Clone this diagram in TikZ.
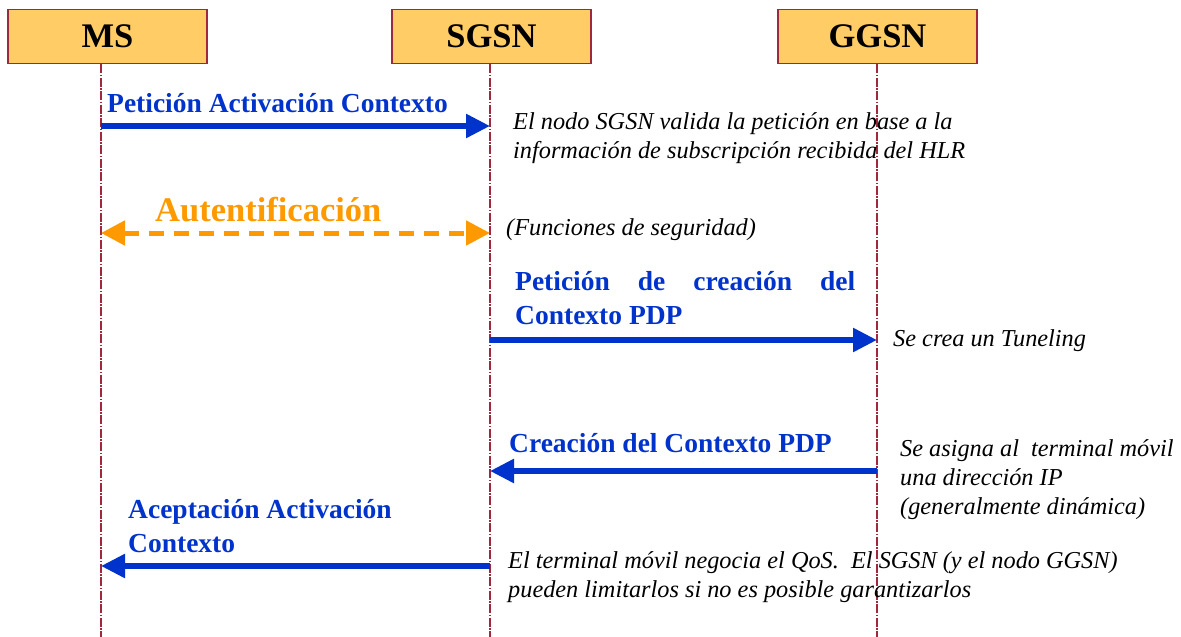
\documentclass[tikz,border=0pt]{standalone}
\usepackage{fontspec}
\setmainfont{Liberation Serif}
\usetikzlibrary{arrows.meta}
\definecolor{boxfill}{RGB}{255,204,102}
\definecolor{boxline}{RGB}{160,40,60}
\definecolor{msgblue}{RGB}{0,51,204}
\definecolor{authorange}{RGB}{255,153,0}
\tikzset{
  entity/.style={draw=boxline, line width=1.5pt, fill=boxfill, minimum width=199pt,
    minimum height=54pt, inner sep=0pt, font=\fontsize{34.5}{38}\selectfont\bfseries},
  lifeline/.style={draw=boxline, line width=1.1pt, dash pattern=on 9pt off 1.5pt on 1.5pt off 1.5pt},
  msg/.style={draw=msgblue, line width=5.5pt, -{Triangle[length=24pt,width=23pt]}},
  auth/.style={draw=authorange, line width=5pt, dash pattern=on 15pt off 10pt,
    {Triangle[length=24pt,width=24pt]}-{Triangle[length=24pt,width=24pt]}},
  msglabel/.style={text=msgblue, inner sep=0pt, anchor=base west, align=left,
    font=\fontsize{27.5}{33.5}\selectfont\bfseries},
  note/.style={inner sep=0pt, anchor=base west, align=left,
    font=\fontsize{24.3}{28.8}\selectfont\itshape},
}
\begin{document}
\begin{tikzpicture}[x=1pt,y=-1pt]
\useasboundingbox (0,0) rectangle (1181,637);

% entities
\node[entity] (ms)   at (107.5,36.5) {MS};
\node[entity] (sgsn) at (491.5,36.5) {SGSN};
\node[entity] (ggsn) at (877.5,36.5) {GGSN};

% lifeline ends
\coordinate (msT) at (101,64);   \coordinate (msB) at (101,637);
\coordinate (sgT) at (490,64);   \coordinate (sgB) at (490,637);
\coordinate (ggT) at (877,64);   \coordinate (ggB) at (877,637);
\draw[lifeline] (msT) -- (msB);
\draw[lifeline] (sgT) -- (sgB);
\draw[lifeline] (ggT) -- (ggB);

% message anchor points on the lifelines
\coordinate (ms1) at (101,126); \coordinate (sg1) at (490,126);
\coordinate (ms2) at (101,233); \coordinate (sg2) at (490,233);
\coordinate (sg3) at (490,340); \coordinate (gg3) at (877,340);
\coordinate (sg4) at (490,471); \coordinate (gg4) at (877,471);
\coordinate (ms5) at (101,566); \coordinate (sg5) at (490,566);

% messages
\draw[msg] (ms1) -- (sg1);
\draw[auth] (ms2) -- (sg2);
\draw[msg] (sg3) -- (gg3);
\draw[msg] (gg4) -- (sg4);
\draw[msg] (sg5) -- (ms5);

% message labels (base anchor = baseline of the last line)
\node[msglabel] (l1) at (107,112) {Petición Activación Contexto};
\node[msglabel, text=authorange, font=\fontsize{34.5}{38}\selectfont\bfseries] (l2) at (155,221.5) {Autentificación};
\node[msglabel] (l3) at (515,324) {\makebox[340pt][s]{Petición de creación del}\\Contexto PDP};
\node[msglabel] (l4) at (509,452) {Creación del Contexto PDP};
\node[msglabel] (l5) at (128,552) {Aceptación Activación\\Contexto};

% notes
\node[note] (n1) at (513,158) {El nodo SGSN valida la petición en base a la\\información de subscripción recibida del HLR};
\node[note] (n2) at (506,235) {(Funciones de seguridad)};
\node[note] (n3) at (893,346) {Se crea un Tuneling};
\node[note] (n4) at (900,514) {Se asigna al\ \ terminal móvil\\una dirección IP\\(generalmente dinámica)};
\node[note] (n5) at (508,597) {El terminal móvil negocia el QoS.\ \ El SGSN (y el nodo GGSN)\\pueden limitarlos si no es posible garantizarlos};
\end{tikzpicture}
\end{document}
